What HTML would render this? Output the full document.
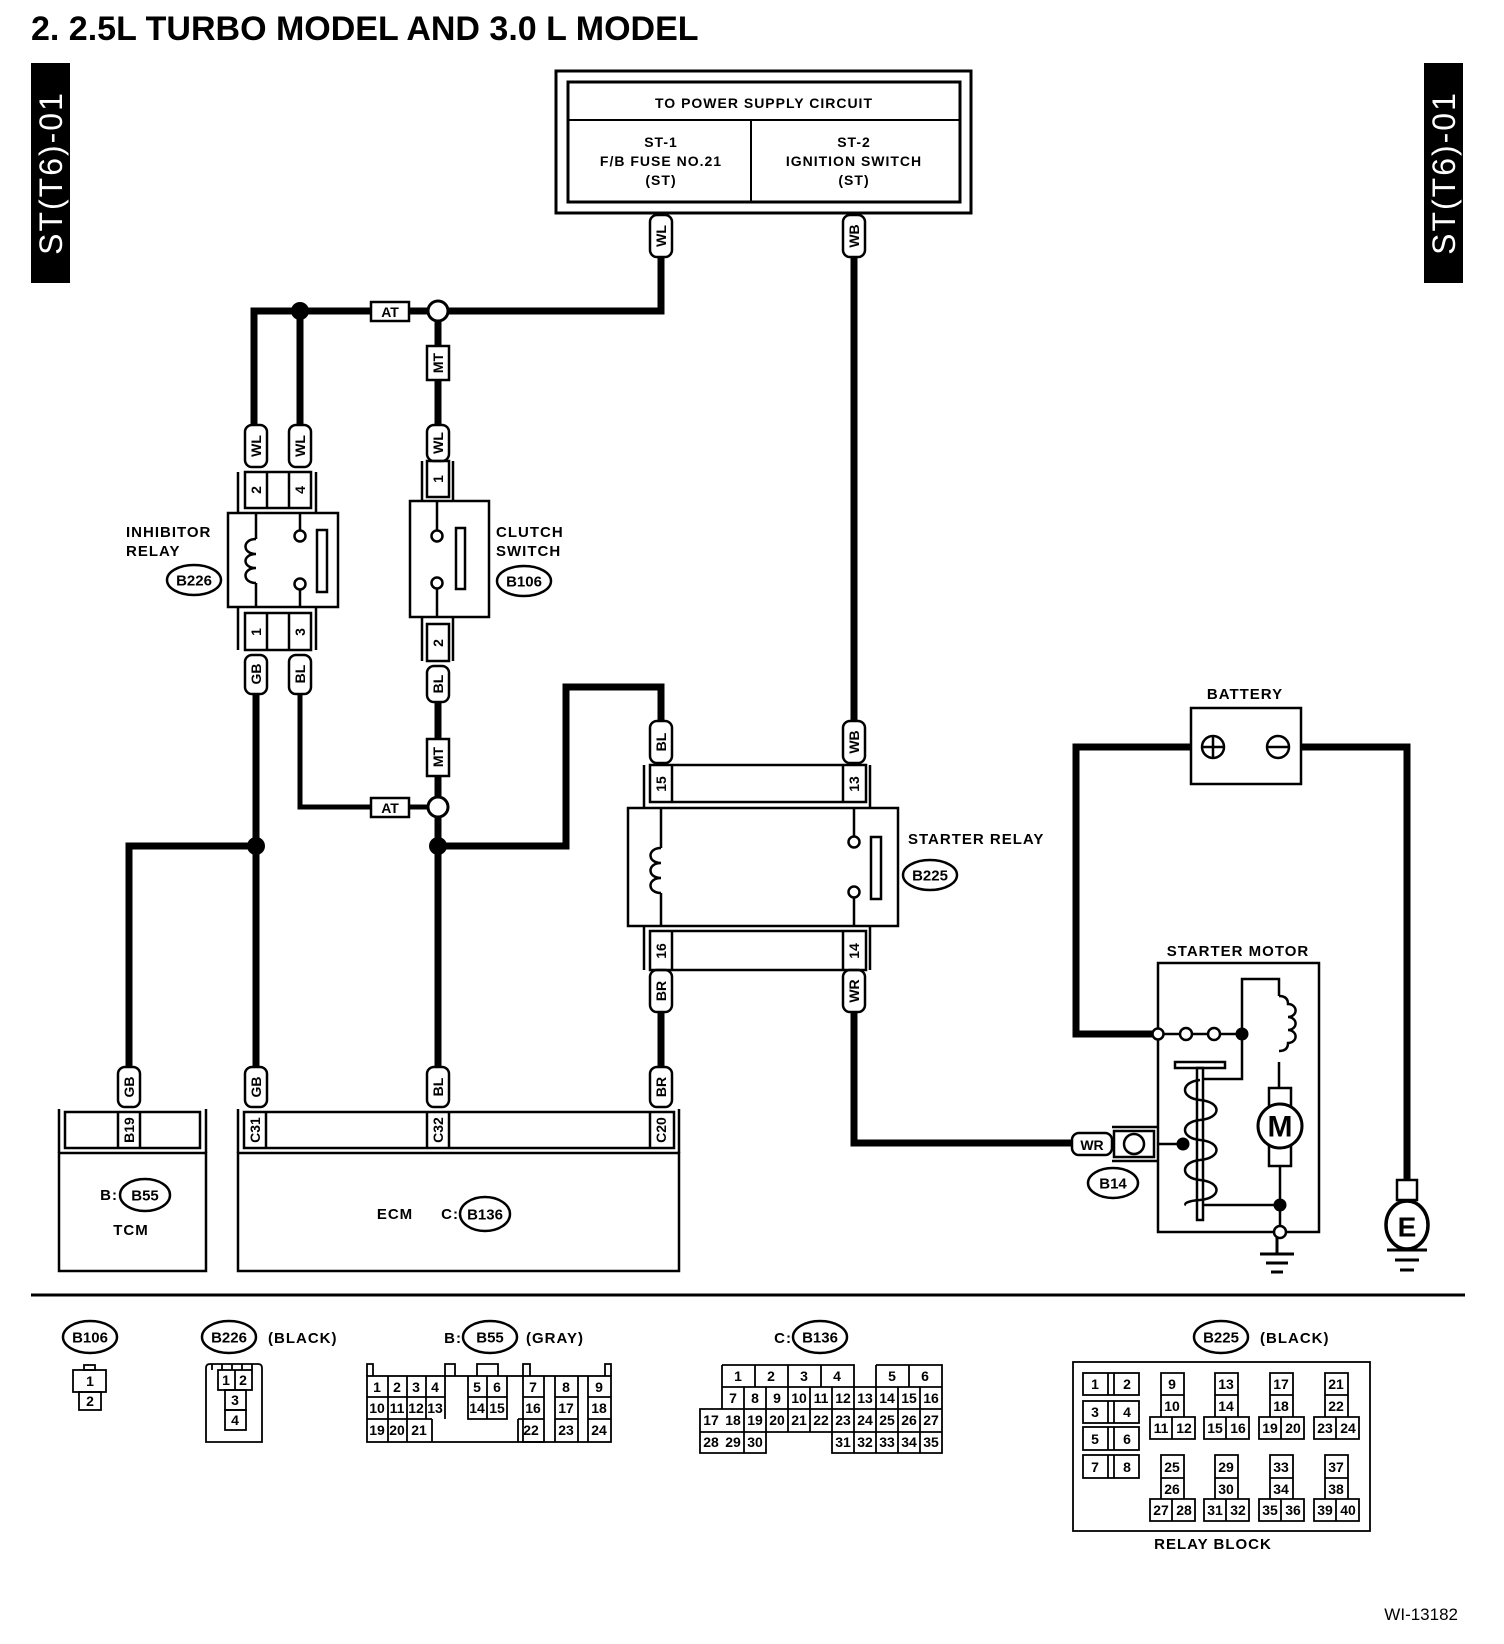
<!DOCTYPE html>
<html><head><meta charset="utf-8"><style>
html,body{margin:0;padding:0;background:#fff}
svg{display:block}
text{font-family:"Liberation Sans",Arial,sans-serif;font-weight:bold;fill:#000}
.p{font-size:14px;text-anchor:middle;dominant-baseline:central}
.l{font-size:15px;letter-spacing:1px}
.n{font-size:14px;font-weight:normal;text-anchor:middle;dominant-baseline:central}
</style></head><body>
<svg width="1504" height="1644" viewBox="0 0 1504 1644" xmlns="http://www.w3.org/2000/svg">
<rect width="1504" height="1644" fill="#fff"/>
<text x="31" y="40" style="font-size:34px">2.  2.5L TURBO MODEL AND 3.0 L MODEL</text>
<rect x="31" y="63" width="39" height="220" fill="#000"/>
<text transform="translate(62,173) rotate(-90)" style="font-size:32px;fill:#fff;text-anchor:middle;font-weight:normal;letter-spacing:2px">ST(T6)-01</text>
<rect x="1424" y="63" width="39" height="220" fill="#000"/>
<text transform="translate(1455,173) rotate(-90)" style="font-size:32px;fill:#fff;text-anchor:middle;font-weight:normal;letter-spacing:2px">ST(T6)-01</text>

<g fill="none" stroke="#000">
<rect x="556" y="71" width="415" height="142" stroke-width="3"/>
<rect x="568" y="82" width="392" height="120" stroke-width="3"/>
<line x1="568" y1="120" x2="960" y2="120" stroke-width="2"/>
<line x1="751" y1="120" x2="751" y2="202" stroke-width="2"/>
</g>
<text x="764" y="108" class="l" style="font-size:14px;text-anchor:middle">TO POWER SUPPLY CIRCUIT</text>
<g class="l" style="font-size:14px;text-anchor:middle">
<text x="661" y="147">ST-1</text><text x="661" y="166">F/B FUSE NO.21</text><text x="661" y="185">(ST)</text>
<text x="854" y="147">ST-2</text><text x="854" y="166">IGNITION SWITCH</text><text x="854" y="185">(ST)</text>
</g>

<g fill="none" stroke="#000" stroke-width="7" stroke-linejoin="miter">
<polyline points="661,257 661,311 448,311"/>
<line x1="428" y1="311" x2="409" y2="311"/>
<polyline points="371,311 254,311 254,425"/>
<line x1="300" y1="311" x2="300" y2="425"/>
<line x1="438" y1="321" x2="438" y2="346"/>
<line x1="438" y1="380" x2="438" y2="425"/>
<line x1="854" y1="257" x2="854" y2="721"/>
<line x1="256" y1="694" x2="256" y2="1067"/>
<polyline points="256,846 129,846 129,1067"/>
<line x1="438" y1="702" x2="438" y2="739"/>
<line x1="438" y1="776" x2="438" y2="797"/>
<line x1="438" y1="817" x2="438" y2="1067"/>
<polyline points="438,846 566,846 566,687 661,687 661,721"/>
<line x1="661" y1="1012" x2="661" y2="1067"/>
<polyline points="854,1012 854,1143 1072,1143"/>
<polyline points="1191,747 1076,747 1076,1034 1158,1034"/>
<polyline points="1300,747 1407,747 1407,1180"/>
</g>
<g fill="none" stroke="#000" stroke-width="5">
<polyline points="300,694 300,807 371,807"/>
<line x1="409" y1="807" x2="428" y2="807"/>
</g>
<circle cx="300" cy="311" r="9" fill="#000"/>
<circle cx="256" cy="846" r="9" fill="#000"/>
<circle cx="438" cy="846" r="9" fill="#000"/>
<circle cx="438" cy="311" r="10" fill="#fff" stroke="#000" stroke-width="3"/>
<circle cx="438" cy="807" r="10" fill="#fff" stroke="#000" stroke-width="3"/>
<g fill="#fff" stroke="#000" stroke-width="2.5">
<rect x="371" y="302" width="38" height="19"/>
<rect x="371" y="798" width="38" height="19"/>
<rect x="427" y="346" width="22" height="34"/>
<rect x="427" y="739" width="22" height="37"/>
</g>
<text x="390" y="312" class="p">AT</text>
<text x="390" y="808" class="p">AT</text>
<text transform="translate(438,363) rotate(-90)" class="p">MT</text>
<text transform="translate(438,757) rotate(-90)" class="p">MT</text>

<g fill="#fff" stroke="#000" stroke-width="2.5">
<rect x="650" y="215" width="22" height="42" rx="7"/>
<rect x="843" y="215" width="22" height="42" rx="7"/>
<rect x="245" y="425" width="22" height="42" rx="7"/>
<rect x="289" y="425" width="22" height="42" rx="7"/>
<rect x="427" y="425" width="22" height="36" rx="7"/>
<rect x="245" y="655" width="22" height="39" rx="7"/>
<rect x="289" y="655" width="22" height="39" rx="7"/>
<rect x="427" y="666" width="22" height="36" rx="7"/>
<rect x="650" y="721" width="22" height="42" rx="7"/>
<rect x="843" y="721" width="22" height="42" rx="7"/>
<rect x="650" y="970" width="22" height="42" rx="7"/>
<rect x="843" y="970" width="22" height="42" rx="7"/>
<rect x="118" y="1067" width="22" height="40" rx="7"/>
<rect x="245" y="1067" width="22" height="40" rx="7"/>
<rect x="427" y="1067" width="22" height="40" rx="7"/>
<rect x="650" y="1067" width="22" height="40" rx="7"/>
<rect x="1072" y="1133" width="40" height="22" rx="7"/>
</g>
<g class="p">
<text transform="translate(661,236) rotate(-90)">WL</text>
<text transform="translate(854,236) rotate(-90)">WB</text>
<text transform="translate(256,446) rotate(-90)">WL</text>
<text transform="translate(300,446) rotate(-90)">WL</text>
<text transform="translate(438,443) rotate(-90)">WL</text>
<text transform="translate(256,674) rotate(-90)">GB</text>
<text transform="translate(300,674) rotate(-90)">BL</text>
<text transform="translate(438,684) rotate(-90)">BL</text>
<text transform="translate(661,742) rotate(-90)">BL</text>
<text transform="translate(854,742) rotate(-90)">WB</text>
<text transform="translate(661,991) rotate(-90)">BR</text>
<text transform="translate(854,991) rotate(-90)">WR</text>
<text transform="translate(129,1087) rotate(-90)">GB</text>
<text transform="translate(256,1087) rotate(-90)">GB</text>
<text transform="translate(438,1087) rotate(-90)">BL</text>
<text transform="translate(661,1087) rotate(-90)">BR</text>
<text x="1092" y="1145">WR</text>
</g>

<g fill="none" stroke="#000" stroke-width="2.5">
<line x1="238" y1="472" x2="238" y2="513"/><line x1="316" y1="472" x2="316" y2="513"/>
<rect x="245" y="472" width="66" height="36"/>
<line x1="267" y1="472" x2="267" y2="508"/><line x1="289" y1="472" x2="289" y2="508"/>
<rect x="228" y="513" width="110" height="94"/>
<line x1="238" y1="607" x2="238" y2="650"/><line x1="316" y1="607" x2="316" y2="650"/>
<rect x="245" y="613" width="66" height="37"/>
<line x1="267" y1="613" x2="267" y2="650"/><line x1="289" y1="613" x2="289" y2="650"/>
<path d="M256 513 V539 M256 583 V607"/>
<path d="M256 539 c-14 0 -14 15 0 15 c-14 0 -14 14 0 14 c-14 0 -14 15 0 15"/>
<path d="M300 513 V530 M300 590 V607"/>
<circle cx="300" cy="536" r="5.5"/><circle cx="300" cy="584" r="5.5"/>
<rect x="317" y="530" width="10" height="62"/>
<line x1="422" y1="461" x2="422" y2="501"/><line x1="453" y1="461" x2="453" y2="501"/>
<rect x="427" y="461" width="22" height="36"/>
<rect x="410" y="501" width="79" height="116"/>
<line x1="422" y1="617" x2="422" y2="661"/><line x1="453" y1="617" x2="453" y2="661"/>
<rect x="427" y="624" width="22" height="37"/>
<path d="M437 501 V530 M437 589 V617"/>
<circle cx="437" cy="536" r="5.5"/><circle cx="437" cy="583" r="5.5"/>
<rect x="456" y="528" width="9" height="61"/>
<line x1="644" y1="765" x2="644" y2="808"/><line x1="870" y1="765" x2="870" y2="808"/>
<rect x="650" y="765" width="216" height="37"/>
<line x1="672" y1="765" x2="672" y2="802"/><line x1="843" y1="765" x2="843" y2="802"/>
<rect x="628" y="808" width="270" height="118"/>
<line x1="644" y1="926" x2="644" y2="970"/><line x1="870" y1="926" x2="870" y2="970"/>
<rect x="650" y="931" width="216" height="39"/>
<line x1="672" y1="931" x2="672" y2="970"/><line x1="843" y1="931" x2="843" y2="970"/>
<path d="M661 808 V848 M661 893 V926"/>
<path d="M661 848 c-14 0 -14 15 0 15 c-14 0 -14 15 0 15 c-14 0 -14 15 0 15"/>
<path d="M854 808 V836 M854 898 V926"/>
<circle cx="854" cy="842" r="5.5"/><circle cx="854" cy="892" r="5.5"/>
<rect x="871" y="837" width="10" height="62"/>
<line x1="59" y1="1109" x2="59" y2="1153"/><line x1="206" y1="1109" x2="206" y2="1153"/>
<rect x="65" y="1112" width="135" height="36"/>
<line x1="118" y1="1112" x2="118" y2="1148"/><line x1="140" y1="1112" x2="140" y2="1148"/>
<rect x="59" y="1153" width="147" height="118"/>
<line x1="238" y1="1109" x2="238" y2="1153"/><line x1="679" y1="1109" x2="679" y2="1153"/>
<rect x="244" y="1112" width="430" height="36"/>
<line x1="266" y1="1112" x2="266" y2="1148"/>
<line x1="427" y1="1112" x2="427" y2="1148"/><line x1="449" y1="1112" x2="449" y2="1148"/>
<line x1="650" y1="1112" x2="650" y2="1148"/>
<rect x="238" y="1153" width="441" height="118"/>
<rect x="1191" y="708" width="110" height="76"/>
<circle cx="1213" cy="747" r="11"/><path d="M1203 747 H1223 M1213 737 V757"/>
<circle cx="1278" cy="747" r="11"/><path d="M1268 747 H1288"/>
<rect x="1158" y="963" width="161" height="269"/>
<path d="M1164 1034 H1180 M1191 1034 H1208 M1220 1034 H1242"/>
<path d="M1242 1034 V979 H1279 V996 M1279 1062 V1087"/>
<path d="M1279 996 q9 0 9 8 a7 6 0 0 1 0 13 a7 6 0 0 1 0 13 a7 6 0 0 1 0 13 q0 8 -9 8"/>
<path d="M1242 1034 V1079 H1203"/>
<rect x="1175" y="1062" width="50" height="6"/>
<rect x="1197" y="1068" width="6" height="152"/>
<path d="M1200 1080 C1180 1082 1180 1098 1200 1100 C1222 1102 1222 1118 1200 1120 C1180 1122 1180 1138 1200 1140 C1222 1142 1222 1158 1200 1160 C1180 1162 1180 1178 1200 1180 C1222 1182 1222 1198 1200 1200 C1186 1201 1184 1204 1186 1205"/>
<path d="M1158 1144 H1183"/>
<rect x="1269" y="1088" width="22" height="78"/>
<path d="M1280 1166 V1232"/>
<path d="M1203 1205 H1280"/>
<path d="M1112 1127 H1158 M1112 1161 H1158"/>
<rect x="1114" y="1131" width="40" height="26"/>
<ellipse cx="1134" cy="1144" rx="10" ry="10"/>
<path d="M1277 1237 V1254 M1260 1254 H1294 M1266 1263 H1288 M1271 1272 H1283" stroke-width="3"/>
<rect x="1397" y="1180" width="20" height="20"/>
<path d="M1387 1250 H1427 M1395 1260 H1419 M1400 1270 H1414" stroke-width="3"/>
</g>
<circle cx="1158" cy="1034" r="5.5" fill="#fff" stroke="#000" stroke-width="2.5"/>
<circle cx="1186" cy="1034" r="6" fill="#fff" stroke="#000" stroke-width="2.5"/>
<circle cx="1214" cy="1034" r="6" fill="#fff" stroke="#000" stroke-width="2.5"/>
<circle cx="1242" cy="1034" r="6.5" fill="#000"/>
<circle cx="1183" cy="1144" r="6.5" fill="#000"/>
<circle cx="1280" cy="1205" r="6.5" fill="#000"/>
<circle cx="1280" cy="1232" r="6" fill="#fff" stroke="#000" stroke-width="2.5"/>
<circle cx="1280" cy="1126" r="22" fill="#fff" stroke="#000" stroke-width="3"/>
<text x="1280" y="1127" style="font-size:30px;text-anchor:middle;dominant-baseline:central">M</text>
<ellipse cx="1407" cy="1225" rx="21" ry="24" fill="#fff" stroke="#000" stroke-width="3.5"/>
<text x="1407" y="1227" style="font-size:28px;text-anchor:middle;dominant-baseline:central">E</text>

<g class="p">
<text transform="translate(256,490) rotate(-90)">2</text>
<text transform="translate(300,490) rotate(-90)">4</text>
<text transform="translate(256,632) rotate(-90)">1</text>
<text transform="translate(300,632) rotate(-90)">3</text>
<text transform="translate(438,479) rotate(-90)">1</text>
<text transform="translate(438,643) rotate(-90)">2</text>
<text transform="translate(661,784) rotate(-90)">15</text>
<text transform="translate(854,784) rotate(-90)">13</text>
<text transform="translate(661,951) rotate(-90)">16</text>
<text transform="translate(854,951) rotate(-90)">14</text>
<text transform="translate(129,1130) rotate(-90)">B19</text>
<text transform="translate(255,1130) rotate(-90)">C31</text>
<text transform="translate(438,1130) rotate(-90)">C32</text>
<text transform="translate(661,1130) rotate(-90)">C20</text>
</g>

<g class="l">
<text x="126" y="537">INHIBITOR</text><text x="126" y="556">RELAY</text>
<text x="496" y="537">CLUTCH</text><text x="496" y="556">SWITCH</text>
<text x="908" y="844">STARTER RELAY</text>
<text x="1245" y="699" style="text-anchor:middle">BATTERY</text>
<text x="1238" y="956" style="text-anchor:middle">STARTER MOTOR</text>
<text x="395" y="1219" style="text-anchor:middle">ECM</text>
<text x="459" y="1219" style="text-anchor:end">C:</text>
<text x="118" y="1200" style="text-anchor:end">B:</text>
<text x="131" y="1235" style="text-anchor:middle">TCM</text>
</g>
<g fill="none" stroke="#000" stroke-width="2.5">
<ellipse cx="194" cy="580" rx="27" ry="15"/>
<ellipse cx="524" cy="581" rx="27" ry="15"/>
<ellipse cx="930" cy="875" rx="27" ry="15"/>
<ellipse cx="1113" cy="1183" rx="25" ry="15"/>
<ellipse cx="485" cy="1214" rx="25" ry="17"/>
<ellipse cx="145" cy="1195" rx="25" ry="16"/>
</g>
<g class="p" style="font-size:15px">
<text x="194" y="581">B226</text><text x="524" y="582">B106</text><text x="930" y="876">B225</text>
<text x="1113" y="1184">B14</text><text x="485" y="1215">B136</text><text x="145" y="1196">B55</text>
</g>

<line x1="31" y1="1295" x2="1465" y2="1295" stroke="#000" stroke-width="3"/>

<g fill="none" stroke="#000" stroke-width="2.5">
<ellipse cx="90" cy="1337" rx="27" ry="16"/>
<ellipse cx="229" cy="1337" rx="27" ry="16"/>
<ellipse cx="490" cy="1337" rx="27" ry="16"/>
<ellipse cx="820" cy="1337" rx="27" ry="16"/>
<ellipse cx="1221" cy="1337" rx="27" ry="16"/>
</g>
<g class="p" style="font-size:15px">
<text x="90" y="1338">B106</text><text x="229" y="1338">B226</text><text x="490" y="1338">B55</text>
<text x="820" y="1338">B136</text><text x="1221" y="1338">B225</text>
</g>
<g class="l">
<text x="268" y="1343">(BLACK)</text>
<text x="462" y="1343" style="text-anchor:end">B:</text><text x="526" y="1343">(GRAY)</text>
<text x="792" y="1343" style="text-anchor:end">C:</text>
<text x="1260" y="1343">(BLACK)</text>
<text x="1213" y="1549" style="text-anchor:middle">RELAY BLOCK</text>
</g>
<text x="1458" y="1620" style="font-size:17px;font-weight:normal;text-anchor:end">WI-13182</text>

<g fill="none" stroke="#000" stroke-width="1.8">
<rect x="84" y="1365" width="11" height="5"/>
<rect x="73" y="1370" width="33" height="22"/>
<rect x="79" y="1392" width="22" height="18"/>
<path d="M206 1442 V1368 q0 -4 4 -4 h48 q4 0 4 4 V1442 Z"/>
<path d="M212 1364 v6 M222 1364 v6 M232 1364 v6 M242 1364 v6 M252 1364 v6"/>
<rect x="218" y="1370" width="34" height="20"/><line x1="235" y1="1370" x2="235" y2="1390"/>
<rect x="225" y="1390" width="21" height="20"/><rect x="225" y="1410" width="21" height="20"/>
<rect x="367" y="1376" width="244" height="66"/>
<path d="M367 1376 V1364 H373 V1376 M445 1376 V1364 H455 V1376 M477 1376 V1364 H498 V1376 M523 1376 V1364 H530 V1376 M605 1376 V1364 H611 V1376"/>
<path d="M367 1397 H445 M367 1419 H432 M388 1376 V1442 M407 1376 V1442 M426 1376 V1419 M432 1419 V1442 M445 1376 V1419"/>
<path d="M468 1376 V1419 H507 V1376 M468 1397 H507 M487 1376 V1419"/>
<path d="M523 1376 V1442 H544 V1376 M523 1397 H544 M518 1419 H544 M518 1419 V1442"/>
<path d="M555 1376 V1442 M578 1376 V1442 M555 1397 H578 M555 1419 H578"/>
<path d="M588 1376 V1442 M588 1397 H611 M588 1419 H611"/>
<path d="M722 1365 H854 V1387 M876 1365 H942 V1453 H832 V1432 H766 V1453 H700 V1409 H722 V1365 M876 1365 V1387 M722 1387 H942 M700 1409 H942 M700 1432 H766 M832 1432 H942"/>
<path d="M755 1365 V1387 M788 1365 V1387 M821 1365 V1387 M909 1365 V1387"/>
<path d="M744 1387 V1453 M766 1387 V1432 M788 1387 V1432 M810 1387 V1432 M832 1387 V1432 M854 1387 V1453 M876 1387 V1453 M898 1387 V1453 M920 1387 V1453"/>
<rect x="1073" y="1362" width="297" height="169"/>
<rect x="1083" y="1373" width="56" height="22"/><rect x="1083" y="1401" width="56" height="22"/>
<rect x="1083" y="1427" width="56" height="23"/><rect x="1083" y="1455" width="56" height="23"/>
<path d="M1108 1373 V1395 M1114 1373 V1395 M1108 1401 V1423 M1114 1401 V1423 M1108 1427 V1450 M1114 1427 V1450 M1108 1455 V1478 M1114 1455 V1478"/>
</g>
<g fill="none" stroke="#000" stroke-width="1.8">
<path id="g1" d="M1161 1373 H1184 V1417 H1195 V1439 H1150 V1417 H1161 Z M1161 1395 H1184 M1150 1417 H1184 M1172 1417 V1439 M1161 1455 H1184 V1499 H1195 V1521 H1150 V1499 H1161 Z M1161 1478 H1184 M1150 1499 H1184 M1172 1499 V1521"/>
<use href="#g1" x="54"/><use href="#g1" x="109"/><use href="#g1" x="164"/>
</g>
<g class="n">
<text x="90" y="1381">1</text><text x="90" y="1401">2</text>
<text x="226" y="1380">1</text><text x="243" y="1380">2</text><text x="235" y="1400">3</text><text x="235" y="1420">4</text>
<text x="377" y="1387">1</text><text x="397" y="1387">2</text><text x="416" y="1387">3</text><text x="435" y="1387">4</text>
<text x="477" y="1387">5</text><text x="497" y="1387">6</text><text x="533" y="1387">7</text><text x="566" y="1387">8</text><text x="599" y="1387">9</text>
<text x="377" y="1408">10</text><text x="397" y="1408">11</text><text x="416" y="1408">12</text><text x="435" y="1408">13</text>
<text x="477" y="1408">14</text><text x="497" y="1408">15</text><text x="533" y="1408">16</text><text x="566" y="1408">17</text><text x="599" y="1408">18</text>
<text x="377" y="1430">19</text><text x="397" y="1430">20</text><text x="419" y="1430">21</text>
<text x="531" y="1430">22</text><text x="566" y="1430">23</text><text x="599" y="1430">24</text>
<text x="738" y="1376">1</text><text x="771" y="1376">2</text><text x="804" y="1376">3</text><text x="837" y="1376">4</text><text x="892" y="1376">5</text><text x="925" y="1376">6</text>
<text x="733" y="1398">7</text><text x="755" y="1398">8</text><text x="777" y="1398">9</text><text x="799" y="1398">10</text><text x="821" y="1398">11</text><text x="843" y="1398">12</text><text x="865" y="1398">13</text><text x="887" y="1398">14</text><text x="909" y="1398">15</text><text x="931" y="1398">16</text>
<text x="711" y="1420">17</text><text x="733" y="1420">18</text><text x="755" y="1420">19</text><text x="777" y="1420">20</text><text x="799" y="1420">21</text><text x="821" y="1420">22</text><text x="843" y="1420">23</text><text x="865" y="1420">24</text><text x="887" y="1420">25</text><text x="909" y="1420">26</text><text x="931" y="1420">27</text>
<text x="711" y="1442">28</text><text x="733" y="1442">29</text><text x="755" y="1442">30</text><text x="843" y="1442">31</text><text x="865" y="1442">32</text><text x="887" y="1442">33</text><text x="909" y="1442">34</text><text x="931" y="1442">35</text>
<text x="1095" y="1384">1</text><text x="1127" y="1384">2</text><text x="1095" y="1412">3</text><text x="1127" y="1412">4</text>
<text x="1095" y="1439">5</text><text x="1127" y="1439">6</text><text x="1095" y="1467">7</text><text x="1127" y="1467">8</text>
<text x="1172" y="1384">9</text><text x="1172" y="1406">10</text><text x="1161" y="1428">11</text><text x="1184" y="1428">12</text>
<text x="1226" y="1384">13</text><text x="1226" y="1406">14</text><text x="1215" y="1428">15</text><text x="1238" y="1428">16</text>
<text x="1281" y="1384">17</text><text x="1281" y="1406">18</text><text x="1270" y="1428">19</text><text x="1293" y="1428">20</text>
<text x="1336" y="1384">21</text><text x="1336" y="1406">22</text><text x="1325" y="1428">23</text><text x="1348" y="1428">24</text>
<text x="1172" y="1467">25</text><text x="1172" y="1489">26</text><text x="1161" y="1510">27</text><text x="1184" y="1510">28</text>
<text x="1226" y="1467">29</text><text x="1226" y="1489">30</text><text x="1215" y="1510">31</text><text x="1238" y="1510">32</text>
<text x="1281" y="1467">33</text><text x="1281" y="1489">34</text><text x="1270" y="1510">35</text><text x="1293" y="1510">36</text>
<text x="1336" y="1467">37</text><text x="1336" y="1489">38</text><text x="1325" y="1510">39</text><text x="1348" y="1510">40</text>
</g>
</svg>
</body></html>
